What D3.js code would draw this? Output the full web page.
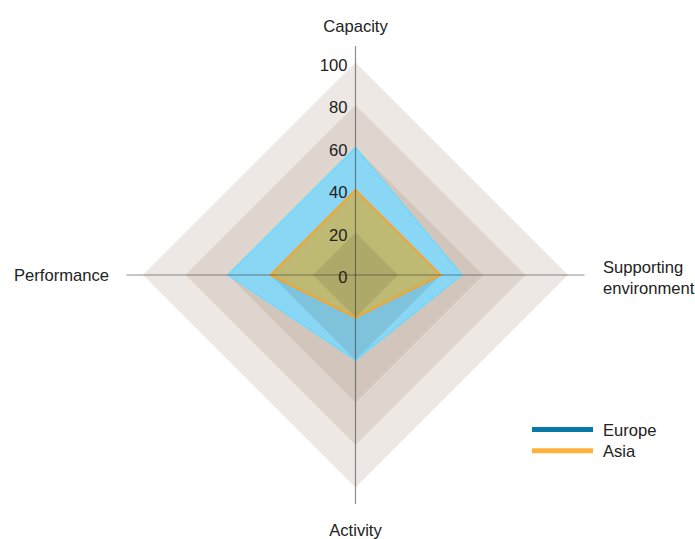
<!DOCTYPE html>
<html>
<head>
<meta charset="utf-8">
<script src="https://cdn.jsdelivr.net/npm/d3@7"></script>
<style>
  html, body { margin: 0; padding: 0; background: #fff; }
  svg { display: block; }
  text { font-family: "Liberation Sans", Arial, Helvetica, sans-serif; fill: #222; }
</style>
</head>
<body>
<svg id="chart" width="695" height="539"></svg>
<script>
// ---- data ----
const axes = ["Capacity", "Supporting environment", "Activity", "Performance"];
const europe = [60, 50, 40, 60];
const asia = [40, 40, 20, 40];
const levels = [20, 40, 60, 80, 100];
const innerLevels = [20, 40];
const tickLabels = ["0", "20", "40", "60", "80", "100"];
const tickValues = [0, 20, 40, 60, 80, 100];
const seriesNames = ["Europe", "Asia"];

// ---- layout ----
const W = 695, H = 539;
const cx = 355.5, cy = 275;
const R = 212.5;
const FS = 16.6;
const svg = d3.select("#chart");
const r = d3.scaleLinear().domain([0, 100]).range([0, R]);
const ang = (i) => i * (Math.PI * 2 / axes.length);   // clockwise from top
const pt = (i, v) => [cx + r(v) * Math.sin(ang(i)), cy - r(v) * Math.cos(ang(i))];
const line = d3.line().curve(d3.curveLinearClosed);
const shape = (vals) => line(vals.map((v, i) => pt(i, v)));
const ring = (lv) => line(axes.map((a, i) => pt(i, lv)));

// ring bands (stacked translucent diamonds)
svg.append("g").selectAll("path")
  .data(levels.slice().reverse())
  .join("path")
  .attr("d", ring)
  .attr("fill", "rgb(165,141,122)")
  .attr("fill-opacity", 0.2);

// series fills
svg.append("path").attr("d", shape(europe))
  .attr("fill", "rgb(125,217,255)").attr("fill-opacity", 0.85);
svg.append("path").attr("d", shape(asia))
  .attr("fill", "rgb(254,199,54)").attr("fill-opacity", 0.62);

// inner ring shading seen through the series
svg.append("g").selectAll("path")
  .data(innerLevels.slice().reverse())
  .join("path")
  .attr("d", ring)
  .attr("fill", "rgb(40,30,20)")
  .attr("fill-opacity", 0.1);

// series outlines
svg.append("path").attr("d", shape(europe))
  .attr("fill", "none").attr("stroke", "#6fd8ff").attr("stroke-width", 1.5);
svg.append("path").attr("d", shape(asia))
  .attr("fill", "none").attr("stroke", "#f7a42c").attr("stroke-width", 2);

// axis lines
const ext = 229;
svg.append("g").selectAll("line")
  .data(axes)
  .join("line")
  .attr("x1", cx).attr("y1", cy)
  .attr("x2", (d, i) => cx + ext * Math.sin(ang(i)))
  .attr("y2", (d, i) => cy - ext * Math.cos(ang(i)))
  .attr("stroke", "#333")
  .attr("stroke-opacity", 0.55)
  .attr("stroke-width", 1.2);

// tick labels along vertical axis
svg.append("g").selectAll("text")
  .data(tickValues)
  .join("text")
  .attr("x", cx - 8)
  .attr("y", v => cy - r(v) + 8)
  .attr("text-anchor", "end")
  .attr("font-size", FS)
  .text((v, i) => tickLabels[i]);

// axis labels
const lab = svg.append("g").attr("font-size", FS);
lab.append("text").attr("x", cx).attr("y", 31.5).attr("text-anchor", "middle").text(axes[0]);
lab.append("text").attr("x", cx).attr("y", 535.5).attr("text-anchor", "middle").text(axes[2]);
lab.append("text").attr("x", 109).attr("y", 281).attr("text-anchor", "end").text(axes[3]);
const se = lab.append("text").attr("x", 603).attr("y", 272.7).attr("text-anchor", "start");
se.selectAll("tspan").data(axes[1].split(" ")).join("tspan")
  .attr("x", 603).attr("dy", (d, i) => i === 0 ? 0 : 21.6).text(d => d);

// legend
const legColors = ["#0b79a8", "#ffb13d"];
const leg = svg.append("g");
seriesNames.forEach((name, i) => {
  const y = 429.5 + i * 21.3;
  leg.append("line").attr("x1", 532).attr("x2", 593).attr("y1", y).attr("y2", y)
    .attr("stroke", legColors[i]).attr("stroke-width", 5);
  leg.append("text").attr("x", 603).attr("y", y + 6.5).attr("font-size", FS).text(name);
});
</script>
</body>
</html>
